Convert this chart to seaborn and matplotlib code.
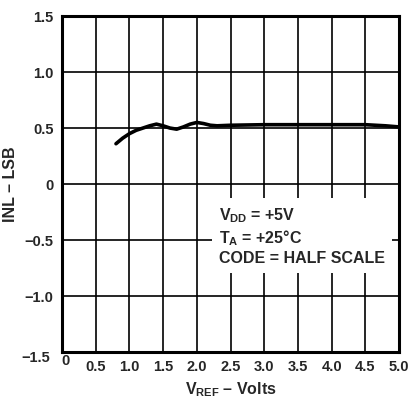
import numpy as np
import pandas as pd
import matplotlib.pyplot as plt
import matplotlib.transforms as mtransforms
import seaborn as sns

# data
vref = [0.8, 0.9, 1.0, 1.1, 1.2, 1.3, 1.4, 1.5, 1.6, 1.7, 1.8, 1.9, 2.0, 2.1, 2.2,
        2.3, 2.5, 3.0, 3.5, 4.0, 4.5, 4.8, 5.0]
inl = [0.36, 0.41, 0.45, 0.48, 0.50, 0.52, 0.535, 0.52, 0.50, 0.49, 0.51, 0.535,
       0.55, 0.54, 0.525, 0.52, 0.525, 0.53, 0.53, 0.53, 0.53, 0.52, 0.51]
xticks = [0, 0.5, 1.0, 1.5, 2.0, 2.5, 3.0, 3.5, 4.0, 4.5, 5.0]
yticks = [-1.5, -1.0, -0.5, 0, 0.5, 1.0, 1.5]
xlabels = ['0', '0.5', '1.0', '1.5', '2.0', '2.5', '3.0', '3.5', '4.0', '4.5', '5.0']
ylabels = ['\u22121.5', '\u22121.0', '\u22120.5', '0', '0.5', '1.0', '1.5']

sns.set_style('white')
plt.rcParams['font.family'] = ['Liberation Sans', 'DejaVu Sans']
plt.rcParams['font.weight'] = 'bold'
plt.rcParams['mathtext.fontset'] = 'custom'
plt.rcParams['mathtext.rm'] = 'Liberation Sans:bold'
plt.rcParams['mathtext.it'] = 'Liberation Sans:bold'
plt.rcParams['mathtext.bf'] = 'Liberation Sans:bold'

df = pd.DataFrame({'vref': vref, 'inl': inl})

fig = plt.figure(figsize=(4.11, 4.01), dpi=100)
ax = fig.add_axes([0.151, 0.122, 0.820, 0.838])

sns.lineplot(data=df, x='vref', y='inl', ax=ax, color='black', linewidth=2.6, zorder=4)

ax.set_xlim(0, 5.0)
ax.set_ylim(-1.5, 1.5)
ax.set_xticks(xticks)
ax.set_yticks(yticks)
ax.set_xticklabels(xlabels, fontsize=10.5, fontweight='bold')
ax.set_yticklabels(ylabels, fontsize=10.5, fontweight='bold')
ax.tick_params(length=0, pad=6)
ax.grid(True, color='black', linewidth=1.2)
for s in ax.spines.values():
    s.set_linewidth(2.2)
    s.set_color('black')

# corner labels sit a bit off
lab0 = ax.get_xticklabels()[0]
lab0.set_transform(lab0.get_transform() + mtransforms.ScaledTranslation(0.03, 0.06, fig.dpi_scale_trans))
lab15 = ax.get_yticklabels()[0]
lab15.set_transform(lab15.get_transform() + mtransforms.ScaledTranslation(-0.04, -0.04, fig.dpi_scale_trans))

ax.set_xlabel('$V_{REF}$ \u2013 Volts', fontsize=11.5, fontweight='bold', labelpad=4)
ax.set_ylabel('INL \u2013 LSB', fontsize=11.5, fontweight='bold', labelpad=2)

ax.text(0.465, 0.345,
        '$V_{DD}$ = +5V\n$T_A$ = +25\u00b0C\nCODE = HALF SCALE',
        transform=ax.transAxes, fontsize=11.5, fontweight='bold', va='center', ha='left',
        linespacing=1.25, zorder=5,
        bbox=dict(facecolor='white', edgecolor='none', pad=5))

fig.savefig('out.png', dpi=100)
